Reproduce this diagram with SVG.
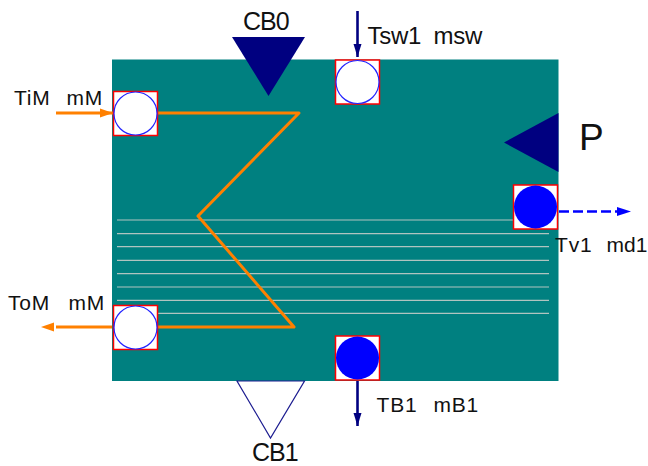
<svg xmlns="http://www.w3.org/2000/svg" width="648" height="466" viewBox="0 0 648 466">
<style>
text{font-family:"Liberation Sans",Arial,sans-serif;fill:#111}
.s{font-size:21px;letter-spacing:.8px}
.m{font-size:24px;letter-spacing:-.3px}
.l{font-size:25px;letter-spacing:-1px}
.box{fill:#fff;stroke:#ff0000;stroke-width:1.500}
.c{fill:#fff;stroke:#2222ff;stroke-width:1.200}
.f{fill:#00f}
.w{stroke:#b0c4c0;stroke-width:1.200;fill:none}
.o{stroke:#ff8000;stroke-width:3;fill:none;stroke-linejoin:round}
.n{stroke:#000080;stroke-width:2.600;fill:none}
</style>
<defs>
<marker id="ao" markerUnits="userSpaceOnUse" markerWidth="14" markerHeight="10" refX="13" refY="5" orient="auto"><path d="M0 .5L13 5L0 9.500z" fill="#ff8000"/></marker>
<marker id="an" markerUnits="userSpaceOnUse" markerWidth="14" markerHeight="10" refX="13" refY="4" orient="auto"><path d="M0 0L13 4L0 8z" fill="#000080"/></marker>
</defs>
<rect id="vessel" x="112" y="59.500" width="446.500" height="321.500" fill="#008080"/>
<g id="tubes" class="w">
<path d="M117 220H549M117 233.700H549M117 246.700H549M117 260.300H549M117 273.700H549M117 287H549M117 300.300H549M117 313.300H549"/>
</g>
<g id="connectors">
<path class="o" d="M157 113H299L198 216L294 327H157"/>
<path class="o" d="M56 113H113" marker-end="url(#ao)"/>
<path class="o" d="M112 327H56"/>
<path d="M54 322.500L41 327L54 331.500z" fill="#ff8000"/>
<path class="n" d="M357.500 11V57" marker-end="url(#an)"/>
<path class="n" d="M357.500 381V426" marker-end="url(#an)"/>
<path d="M559 211.500H617" stroke="#00f" stroke-width="2.600" stroke-dasharray="10 4" fill="none"/>
<path d="M617 207L631 211.500L617 216z" fill="#00f"/>
</g>
<g id="CB0"><path d="M232 37H305L268.500 96z" fill="#000080"/><text class="l" x="243" y="30">CB0</text></g>
<g id="CB1"><path d="M237 381H304.500L270.500 438z" fill="#fff" stroke="#1c1c90" stroke-width="1.200"/><text class="l" x="252" y="460.500">CB1</text></g>
<g id="P"><path d="M558.500 113V172L504 142.500z" fill="#000080"/><text x="579" y="150" font-size="37">P</text></g>
<g id="TiM"><rect class="box" x="113.500" y="91.500" width="44" height="44"/><circle class="c" cx="135.500" cy="113.500" r="21.500"/><text class="s" y="105"><tspan x="14">TiM</tspan><tspan x="66.500">mM</tspan></text></g>
<g id="ToM"><rect class="box" x="113.500" y="305.500" width="44" height="44"/><circle class="c" cx="135.500" cy="327.500" r="21.500"/><text class="s" y="310"><tspan x="8">ToM</tspan><tspan x="68.500">mM</tspan></text></g>
<g id="Tsw1"><rect class="box" x="335.500" y="60" width="44" height="44"/><circle class="c" cx="357.500" cy="82" r="21.500"/><text class="m" y="44"><tspan x="367.500">Tsw1</tspan><tspan x="433.500">msw</tspan></text></g>
<g id="Tv1"><rect class="box" x="513.500" y="185" width="44" height="44"/><circle class="f" cx="535.500" cy="207" r="21.500"/><text class="s" y="252"><tspan x="555">Tv1</tspan><tspan x="606.500" letter-spacing="0">md1</tspan></text></g>
<g id="TB1"><rect class="box" x="335.500" y="336" width="44" height="44"/><circle class="f" cx="357.500" cy="358" r="21.500"/><text class="s" y="411.500"><tspan x="376.500">TB1</tspan><tspan x="433.500">mB1</tspan></text></g>
</svg>
